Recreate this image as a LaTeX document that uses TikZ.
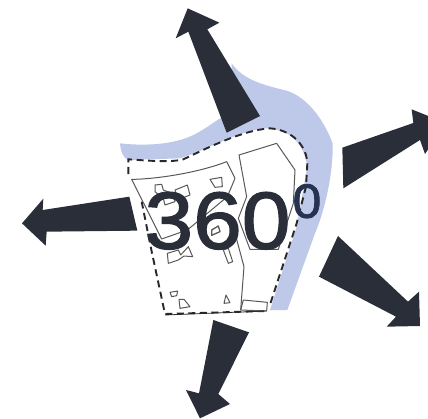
\documentclass[tikz,border=0pt]{standalone}
\usepackage{fontspec}
\newfontfamily\anglefont[FakeBold=1.6,FakeStretch=1.08]{Liberation Sans}
\begin{document}
\begin{tikzpicture}[x=0.3333pt, y=-0.3333pt]
  % Colors
  \definecolor{arrowcol}{RGB}{42,46,56}
  \definecolor{watercol}{RGB}{190,200,232}
  \definecolor{sitecol}{RGB}{40,40,44}
  \definecolor{plotcol}{RGB}{88,88,88}
  \definecolor{supcol}{RGB}{38,50,80}
  %
  \tikzset{
    farrow/.style={fill=arrowcol, draw=none},
    sitedash/.style={draw=sitecol, line width=1.9pt, dash pattern=on 7pt off 4.5pt},
    plotline/.style={draw=plotcol, line width=1pt, line join=round},
    hutline/.style={draw=plotcol, line width=1pt, line join=round},
  }
  %
  \useasboundingbox (0, 0) rectangle (1284, 1257);
  \clip (0, 0) rectangle (1284, 1257);
  %
  %%% WATER %%%
  \fill[watercol] (360,430) .. controls (450,440) and (530,430) .. (580,405)
    .. controls (630,380) and (660,350) .. (690,340) -- (695,190)
    .. controls (730,240) and (790,255) .. (860,272)
    .. controls (930,295) and (975,370) .. (998,430)
    .. controls (1000,520) and (975,630) .. (945,700)
    -- (862,930) -- (810,930) -- (890,680) -- (922,500)
    .. controls (910,420) and (860,385) .. (790,385)
    .. controls (700,400) and (620,450) .. (540,475)
    -- (385,480) .. controls (370,475) and (362,455) .. (360,430) -- cycle;
  %
  %%% ARROWS %%%
  \fill[farrow] (563,25) -- (658,68) -- (622,88) -- (780,348) -- (680,398) -- (565,95) -- (527,115) -- cycle;
  \fill[farrow] (1027,443) -- (1240,369) -- (1235,328) -- (1290,350) -- (1290,440) -- (1275,462) -- (1260,420) -- (1030,565) -- cycle;
  \fill[farrow] (1014,708) -- (957,830) -- (1188,950) -- (1160,980) -- (1260,978) -- (1257,875) -- (1224,905) -- cycle;
  \fill[farrow] (640,960) -- (747,997) -- (655,1182) -- (690,1212) -- (600,1255) -- (558,1170) -- (597,1180) -- cycle;
  \fill[farrow] (388,590) -- (412,692) -- (140,695) -- (137,737) -- (66,670) -- (130,596) -- (128,630) -- cycle;
  %
  %%% SITE %%%
  \begin{scope}[shift={(330,270)}]
    % boundary
    \draw[sitedash] (55,252) -- (55,208) .. controls (120,212) and (180,218) .. (220,208)
      .. controls (300,170) and (400,120) .. (480,115)
      .. controls (550,120) and (590,170) .. (592,220) -- (588,290) -- (560,400) -- (478,650);
    \draw[sitedash] (95,335) -- (122,470) -- (165,672) -- (470,663);
    \draw[line width=0.8pt, draw=sitecol] (165,675) -- (470,663);
    % plots
    \draw[plotline] (65,268) .. controls (130,268) and (260,250) .. (350,215)
      -- (375,265) -- (352,320) -- (232,420) -- (155,447) -- cycle;
    \draw[plotline] (387,195) -- (500,160) -- (555,240) -- (550,340) -- (505,478) -- (420,478)
      -- (385,385) -- (410,320) -- cycle;
    \draw[plotline] (375,430) -- (402,530) -- (392,660);
    \draw[plotline] (400,630) -- (472,637) -- (470,663) -- (392,660) -- cycle;
    % buildings
    \draw[hutline] (135,285) -- (155,283) -- (160,300) -- (190,312) -- (195,335) -- (165,345) -- (160,325) -- (135,305) -- cycle;
    \draw[hutline] (195,300) -- (232,285) -- (240,315) -- (222,322) -- (200,318) -- cycle;
    \draw[hutline] (300,268) -- (335,262) -- (337,290) -- (315,292) -- cycle;
    \draw[hutline, line width=1.3pt] (305,420) -- (325,408) -- (330,425) -- (305,436) -- cycle;
    \draw[hutline] (172,490) -- (205,480) -- (212,495) -- (235,470) -- (248,500) -- (222,498) -- (205,510) -- (175,520) -- cycle;
    \draw[hutline] (340,480) -- (355,475) -- (368,515) -- (355,520) -- cycle;
    \draw[hutline] (180,607) -- (203,603) -- (200,617) -- (185,620) -- cycle;
    \draw[hutline] (207,628) -- (222,628) -- (240,650) -- (210,655) -- cycle;
    \draw[hutline] (348,615) -- (360,638) -- (342,640) -- cycle;
  \end{scope}
  %
  %%% LABEL %%%
  \node[anchor=base west, inner sep=0pt, text=arrowcol, font=\anglefont\fontsize{81}{81}\selectfont] (anglenum) at (433,746) {360};
  \node[anchor=north west, inner sep=0pt, text=supcol, font=\anglefont\fontsize{48}{48}\selectfont] (anglesup) at (877,552) {0};
\end{tikzpicture}
\end{document}
